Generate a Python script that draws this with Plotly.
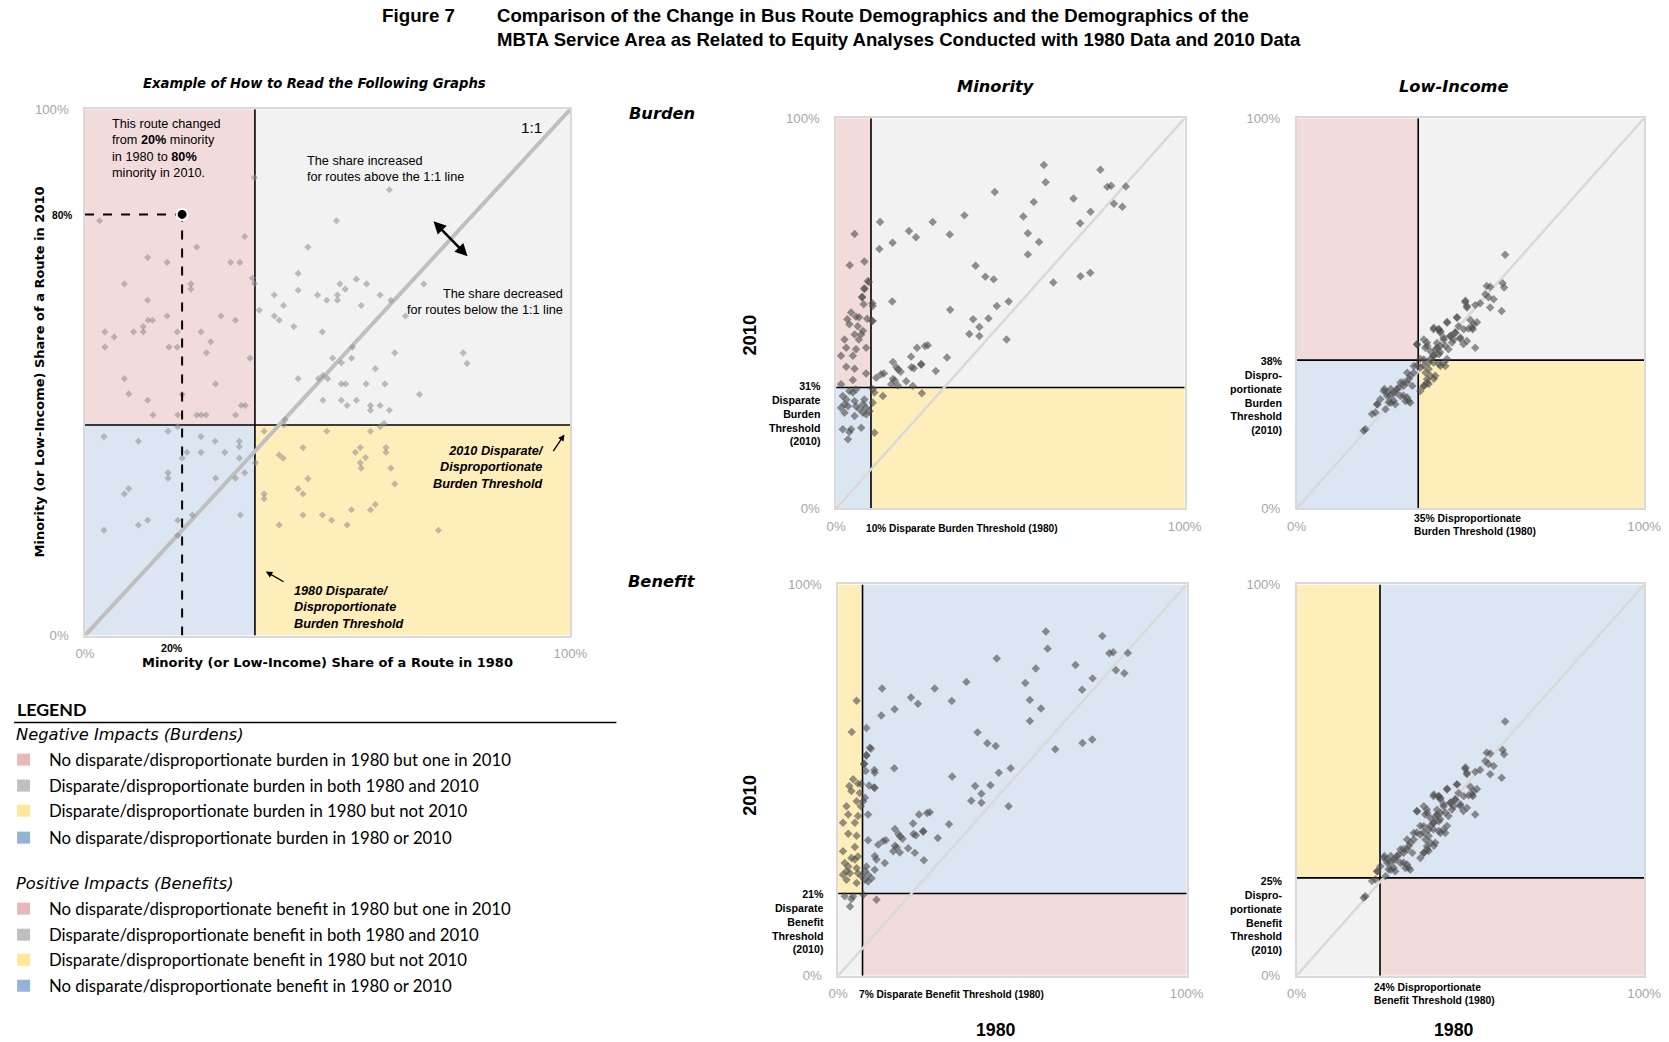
import plotly.graph_objects as go

# figure size; the page adds an 8px body margin and is shown at ~0.985 scale,
# so layout positions below are given in final on-screen pixels and converted
W, H = 1669, 1042
PAD, K = 8, 0.985


def px(x):
    return (x / K - PAD) / W


def py(y):
    return 1 - (y / K - PAD) / H


def fs(s):
    return s / K


# ---------------------------------------------------------------- data
# Example chart (illustrative routes), shares in percent
example_1980 = [34.9, 62.7, 3.0, 51.8, 32.9, 23.0, 45.9, 12.9, 16.9, 30.0, 31.9, 43.9, 34.5, 34.9,
                8.1, 21.8, 21.8, 43.9, 52.5, 53.6, 55.9, 58.0, 39.0, 40.9, 47.9, 49.8, 52.0, 52.0,
                56.9, 60.8, 63.0, 69.8, 12.9, 16.9, 28.0, 31.0, 13.0, 13.9, 12.0, 12.0, 10.0, 4.1,
                6.0, 19.0, 23.9, 35.9, 39.0, 40.0, 43.0, 48.9, 66.0, 77.9, 78.7, 63.8, 17.3, 19.0,
                25.9, 4.1, 25.0, 34.0, 55.1, 51.0, 52.8, 54.9, 59.8, 43.9, 48.1, 49.0, 50.0, 52.8,
                53.7, 57.9, 61.8, 68.9, 8.1, 26.9, 9.0, 12.9, 20.0, 32.2, 33.0, 49.0, 52.8, 54.0,
                55.9, 58.8, 60.8, 14.0, 19.1, 23.0, 23.9, 24.9, 31.0, 58.8, 62.7, 41.2, 61.6, 41.0,
                60.8, 3.9, 11.0, 17.1, 19.1, 23.9, 26.8, 31.8, 31.8, 20.0, 21.0, 23.9, 28.8, 31.8,
                35.1, 36.9, 40.0, 40.8, 44.9, 49.8, 56.7, 55.7, 57.8, 56.7, 56.9, 62.0, 62.0, 63.0,
                63.8, 58.8, 17.1, 17.1, 26.9, 31.0, 32.9, 45.9, 43.9, 44.9, 36.9, 36.9, 8.1, 9.0,
                54.9, 58.8, 59.8, 44.9, 48.9, 50.8, 54.0, 40.0, 72.8, 32.0, 22.1, 19.1, 12.9, 11.0,
                3.9, 19.1]
example_2010 = [87.0, 84.7, 78.8, 78.8, 75.8, 73.8, 73.8, 71.8, 70.9, 70.9, 70.9, 68.8, 67.9, 66.9,
                66.8, 66.8, 65.8, 65.6, 66.8, 65.8, 67.7, 66.8, 64.7, 62.7, 64.7, 63.7, 63.7, 64.7,
                62.7, 64.7, 63.7, 66.8, 63.7, 60.7, 60.7, 59.9, 59.9, 59.9, 58.7, 57.7, 57.7, 57.7,
                56.7, 57.7, 57.7, 61.8, 60.7, 59.9, 58.7, 57.7, 60.7, 53.7, 51.7, 53.7, 54.8, 54.8,
                55.8, 54.8, 53.7, 52.7, 54.8, 52.7, 51.8, 52.7, 50.7, 48.8, 48.8, 49.4, 48.8, 47.8,
                47.8, 47.8, 47.8, 45.8, 48.8, 47.8, 45.9, 44.7, 45.8, 43.7, 43.7, 44.7, 44.7, 43.7,
                44.7, 43.7, 43.7, 41.9, 41.9, 41.9, 41.9, 41.9, 41.9, 42.8, 42.8, 41.0, 40.3, 40.0,
                39.7, 37.8, 36.9, 38.8, 39.7, 37.8, 36.9, 36.9, 35.9, 33.7, 34.8, 34.8, 34.8, 33.7,
                32.8, 38.8, 34.3, 33.7, 35.7, 38.8, 35.7, 34.8, 33.8, 32.8, 31.8, 35.7, 34.8, 31.8,
                28.8, 38.8, 30.9, 29.9, 29.9, 29.9, 30.9, 29.8, 27.9, 26.9, 26.9, 26.0, 26.9, 27.9,
                23.9, 23.9, 24.9, 22.9, 22.9, 21.9, 21.0, 21.0, 20.0, 22.9, 22.9, 21.9, 21.9, 21.0,
                20.0, 19.0]
highlight_1980 = [20]
highlight_2010 = [80]
example_threshold_1980 = 35
example_threshold_2010 = 40

# Minority share of each bus route, 1980 vs 2010 (percent)
minority_1980 = [59.6, 60.1, 75.8, 77.8, 78.9, 83.1, 45.5, 68.1, 56.7, 79.7, 82.1, 73.0, 36.8, 53.7,
                 70.0, 12.6, 27.7, 20.9, 22.9, 32.6, 5.3, 55.0, 58.2, 12.4, 16.2, 55.0, 40.0, 3.9,
                 8.1, 42.8, 45.2, 70.1, 72.9, 62.3, 9.1, 8.1, 7.4, 10.4, 16.1, 49.5, 46.1, 32.7,
                 39.3, 43.7, 41.1, 38.2, 41.1, 48.9, 10.3, 26.3, 25.5, 23.2, 21.5, 31.8, 24.4, 28.6,
                 16.3, 17.8, 18.5, 17.3, 21.6, 22.3, 24.4, 11.5, 12.9, 13.7, 16.3, 16.8, 20.1, 22.0,
                 15.8, 17.7, 11.0, 13.4, 10.5, 24.6, 11.0, 10.5, 10.5, 9.4, 10.5,
                 8.1, 7.5, 7.9, 4.3, 3.2, 5.7, 6.6, 8.9, 3.8, 6.2, 7.7, 7.2, 5.3, 2.4, 6.5, 2.9, 5.7,
                 8.6, 1.4, 4.8, 2.9, 5.3, 8.6, 4.8, 1.4,
                 5.7, 4.8, 3.8, 1.9, 2.9, 5.3, 2.4, 1.4, 3.4, 5.7, 7.7, 8.1, 8.6, 6.7, 7.7, 5.3, 2.4,
                 8.6, 9.6, 1.9, 4.3, 7.2, 3.8, 3.4]
minority_2010 = [88.0, 83.6, 86.8, 82.4, 82.7, 82.5, 81.1, 79.4, 78.5, 78.1, 77.3, 76.0, 75.1, 74.8,
                 73.1, 73.4, 73.4, 71.1, 69.5, 70.2, 70.3, 70.5, 68.3, 66.5, 68.1, 65.1, 62.2, 62.3,
                 63.3, 59.4, 58.7, 59.5, 60.4, 57.9, 58.3, 56.4, 54.1, 52.6, 53.0, 53.0, 51.9, 50.9,
                 48.5, 48.7, 46.5, 44.7, 44.2, 43.3, 48.1, 41.8, 41.6, 41.2, 38.9, 38.7, 37.0, 35.2,
                 37.5, 35.6, 35.0, 36.2, 36.2, 35.9, 36.8, 33.5, 34.4, 34.6, 33.2, 32.8, 32.6, 31.4,
                 31.8, 31.5, 29.7, 28.8, 27.1, 29.5, 19.4, 30.6, 51.9, 58.0, 48.0,
                 56.2, 54.2, 52.3, 50.2, 48.5, 49.1, 49.0, 48.6, 47.2, 46.7, 45.5, 44.6, 44.6, 43.3,
                 43.3, 41.2, 40.8, 41.2, 39.1, 39.1, 36.3, 35.8, 34.6, 32.9, 31.8,
                 30.5, 29.7, 30.1, 28.8, 27.9, 27.5, 26.7, 25.8, 26.2, 26.2, 26.7, 27.9, 25.8, 25.4,
                 24.5, 23.7, 24.5, 24.1, 24.9, 20.3, 20.3, 20.7, 19.6, 17.7]

# Low-income share of each bus route, 1980 vs 2010 (percent)
lowinc_1980 = [60.0, 59.3, 59.7, 54.7, 55.7, 54.3, 55.2, 56.7, 59.0, 55.7, 48.5, 49.0, 51.4, 52.8,
               46.1, 50.0, 50.9, 51.9, 50.7, 49.5, 51.4, 43.3, 40.9, 41.3, 42.3, 44.2, 45.6, 47.1,
               48.0, 44.7, 42.8, 43.7, 39.4, 40.4, 41.3, 39.4, 38.5, 37.5, 37.0, 34.6, 35.6, 36.6,
               38.0, 39.4, 40.9, 42.3, 43.3, 39.9, 37.5, 36.6, 34.6, 33.7, 32.7, 31.8, 30.8, 29.9,
               28.9, 27.9, 25.3, 26.0, 27.0, 27.9, 26.5, 25.6, 28.4, 23.2, 21.7, 22.7, 19.8, 19.3,
               32.2, 31.8, 30.8,
               48.6, 49.0, 46.2, 43.3, 50.5, 48.1, 46.6, 39.5, 40.9, 41.4, 44.3, 45.7, 45.2, 47.1,
               42.3, 41.4, 40.4, 36.6, 37.6, 38.5, 40.0, 34.7, 49.0, 36.6, 38.0, 39.5, 40.9, 42.8,
               41.4, 35.6, 37.1, 38.5, 39.5, 33.7, 31.8, 32.3, 33.3, 30.8, 29.4, 28.5, 27.1, 26.1,
               25.1, 29.9, 31.3, 32.7, 35.6, 37.6, 24.1, 23.2, 27.1, 36.6, 38.0]
lowinc_2010 = [65.0, 57.7, 56.6, 57.0, 56.8, 54.9, 54.1, 53.6, 50.6, 51.5, 52.9, 51.5, 52.1, 52.6,
               48.9, 48.3, 47.2, 47.7, 45.9, 46.1, 41.2, 47.8, 45.9, 45.1, 43.8, 44.2, 45.1, 43.4,
               42.1, 42.5, 41.7, 40.8, 45.9, 41.2, 40.0, 39.1, 38.3, 42.5, 41.2, 42.1, 38.3, 36.6,
               35.7, 37.4, 37.0, 37.4, 38.3, 34.0, 33.1, 31.4, 36.6, 34.8, 34.0, 32.3, 31.4, 32.3,
               30.6, 29.7, 30.6, 29.7, 28.9, 27.6, 27.2, 25.4, 26.7, 26.7, 24.2, 24.6, 20.3, 19.9,
               27.6, 28.4, 28.9,
               53.2, 51.9, 48.9, 47.6, 46.3, 45.9, 46.7, 46.3, 45.9, 45.4, 44.2, 45.0, 43.3, 43.8,
               43.3, 41.6, 42.4, 43.3, 41.6, 40.3, 40.7, 42.0, 42.9, 38.2, 37.3, 39.1, 39.5, 36.5,
               36.5, 36.1, 34.8, 34.0, 33.2, 36.5, 34.8, 33.2, 31.4, 32.3, 31.0, 29.7, 30.6, 28.8,
               30.1, 28.8, 27.5, 27.1, 30.1, 32.3, 28.0, 26.7, 27.1, 31.4, 31.9]

# (1980 threshold, 2010 threshold) for each panel, percent
minority_burden_thr = (10, 31)
lowinc_burden_thr = (35, 38)
minority_benefit_thr = (7, 21)
lowinc_benefit_thr = (24, 25)

one_to_one = [0, 100]

# ---------------------------------------------------------------- styles
PINK, GREY, YELLOW, BLUE = "#F2DCDB", "#F2F2F2", "#FFEDBA", "#DCE6F2"
SW_PINK, SW_GREY, SW_YELLOW, SW_BLUE = "#E6B9B8", "#BFBFBF", "#FFE699", "#95B3D7"
NARROW = "Liberation Sans Narrow, Arial Narrow, Liberation Sans, Arial"
SANS = "Liberation Sans, Arial"
WIDE = "DejaVu Sans, Verdana, sans-serif"
LEG = "Lato, Open Sans, sans-serif"
TICK_GREY = "#A6A6A6"

fig = go.Figure()

# axis domains in screen pixels: (left, right, top, bottom)
panels = {
    "": (83, 569, 110, 636),
    "2": (835, 1184, 119, 509),
    "3": (1296, 1644, 119, 509),
    "4": (837, 1186, 585, 976),
    "5": (1296, 1644, 585, 976),
}

layout_axes = {}
for k, (l, r, t, b) in panels.items():
    common = dict(range=[0, 100], showgrid=False, zeroline=False, showline=True, mirror=True,
                  linecolor="#D9D9D9", linewidth=1.5, tickvals=[0, 100], ticktext=["0%", "100%"],
                  ticks="", tickfont=dict(family=SANS, size=fs(13), color=TICK_GREY), fixedrange=True)
    layout_axes["xaxis" + k] = dict(common, domain=[px(l), px(r)], anchor="y" + k, ticklabelstandoff=5)
    layout_axes["yaxis" + k] = dict(common, domain=[py(b), py(t)], anchor="x" + k, ticklabelstandoff=12)

shapes = []


def quadrants(k, thr, tl, tr, bl, br):
    xr, yr = "x" + k, "y" + k
    tx, ty = thr
    for (x0, x1, y0, y1, c) in [(0, tx, ty, 100, tl), (tx, 100, ty, 100, tr),
                                 (0, tx, 0, ty, bl), (tx, 100, 0, ty, br)]:
        shapes.append(dict(type="rect", xref=xr, yref=yr, x0=x0, x1=x1, y0=y0, y1=y1,
                           fillcolor=c, line=dict(width=0), layer="below"))
    shapes.append(dict(type="line", xref=xr, yref=yr, x0=tx, x1=tx, y0=0, y1=100,
                       line=dict(color="#000000", width=1.6), layer="below"))
    shapes.append(dict(type="line", xref=xr, yref=yr, x0=0, x1=100, y0=ty, y1=ty,
                       line=dict(color="#000000", width=1.6), layer="below"))


quadrants("", (example_threshold_1980, example_threshold_2010), PINK, GREY, BLUE, YELLOW)
quadrants("2", minority_burden_thr, PINK, GREY, BLUE, YELLOW)
quadrants("3", lowinc_burden_thr, PINK, GREY, BLUE, YELLOW)
quadrants("4", minority_benefit_thr, YELLOW, BLUE, GREY, PINK)
quadrants("5", lowinc_benefit_thr, YELLOW, BLUE, GREY, PINK)

# 1:1 reference lines
for k in panels:
    fig.add_trace(go.Scatter(x=one_to_one, y=one_to_one, mode="lines", xaxis="x" + k, yaxis="y" + k,
                             line=dict(color="#BFBFBF" if k == "" else "#D9D9D9", width=4 if k == "" else 2.5),
                             hoverinfo="skip", showlegend=False))

# example routes
fig.add_trace(go.Scatter(x=example_1980, y=example_2010, mode="markers", xaxis="x", yaxis="y",
                         marker=dict(symbol="diamond", size=5.5, color="rgba(140,140,140,0.55)"),
                         showlegend=False))
# dashed guides to the highlighted route
fig.add_trace(go.Scatter(x=[0, highlight_1980[0]], y=[highlight_2010[0], highlight_2010[0]], mode="lines",
                         xaxis="x", yaxis="y", line=dict(color="#000000", width=2, dash="dash"),
                         hoverinfo="skip", showlegend=False))
fig.add_trace(go.Scatter(x=[highlight_1980[0], highlight_1980[0]], y=[0, highlight_2010[0]], mode="lines",
                         xaxis="x", yaxis="y", line=dict(color="#000000", width=2, dash="dash"),
                         hoverinfo="skip", showlegend=False))
fig.add_trace(go.Scatter(x=highlight_1980, y=highlight_2010, mode="markers", xaxis="x", yaxis="y",
                         marker=dict(symbol="circle", size=11, color="#000000",
                                     line=dict(color="#FFFFFF", width=2)),
                         showlegend=False))

# route scatter in the four panels
for k, xs, ys in [("2", minority_1980, minority_2010), ("3", lowinc_1980, lowinc_2010),
                  ("4", minority_1980, minority_2010), ("5", lowinc_1980, lowinc_2010)]:
    fig.add_trace(go.Scatter(x=xs, y=ys, mode="markers", xaxis="x" + k, yaxis="y" + k,
                             marker=dict(symbol="diamond", size=6.5, color="rgba(75,75,75,0.6)"),
                             showlegend=False))

annotations = []


def ann(text, x, y, xanchor="left", yanchor="middle", size=12, color="#000000", family=SANS,
        align=None, **kw):
    d = dict(text=text, x=px(x), y=py(y), xref="paper", yref="paper", xanchor=xanchor,
             yanchor=yanchor, showarrow=False, font=dict(size=fs(size), color=color, family=family))
    if align:
        d["align"] = align
    d.update(kw)
    annotations.append(d)


def arrow(x, y, ax, ay, width, both=False):
    d = dict(x=px(x), y=py(y), xref="paper", yref="paper", ax=ax / K, ay=ay / K,
             text="", showarrow=True, arrowhead=2, arrowsize=1, arrowwidth=width, arrowcolor="#000000")
    if both:
        d["arrowside"] = "end+start"
    annotations.append(d)


# title
ann("<b>Figure 7</b>", 378, 16, size=18.5, family=NARROW)
ann("<b>Comparison of the Change in Bus Route Demographics and the Demographics of the</b>", 493, 16,
    size=18.3, family=NARROW)
ann("<b>MBTA Service Area as Related to Equity Analyses Conducted with 1980 Data and 2010 Data</b>", 493, 40,
    size=18.3, family=NARROW)

# headers
ann("<b><i>Example of How to Read the Following Graphs</i></b>", 313, 84, xanchor="center", size=13,
    family=WIDE)
ann("<b><i>Minority</i></b>", 995, 87, xanchor="center", size=16, family=WIDE)
ann("<b><i>Low-Income</i></b>", 1454, 87, xanchor="center", size=16, family=WIDE)
ann("<b><i>Burden</i></b>", 661, 114, xanchor="center", size=16, family=WIDE)
ann("<b><i>Benefit</i></b>", 661, 582, xanchor="center", size=16, family=WIDE)
ann("<b>2010</b>", 748, 336, xanchor="center", size=18, textangle=-90)
ann("<b>2010</b>", 748, 796, xanchor="center", size=18, textangle=-90)
ann("<b>1980</b>", 995, 1030, xanchor="center", size=17.5)
ann("<b>1980</b>", 1454, 1030, xanchor="center", size=17.5)

# example axis titles and labels
ann("<b>Minority (or Low-Income) Share of a Route in 2010</b>", 37, 373, xanchor="center", size=12.8,
    family=WIDE, textangle=-90)
ann("<b>Minority (or Low-Income) Share of a Route in 1980</b>", 326, 663, xanchor="center", size=12.8,
    family=WIDE)
ann("<b>80%</b>", 72, 216, xanchor="right", size=10, family=NARROW)
ann("<b>20%</b>", 170, 648, xanchor="center", size=10.5, family=NARROW)
ann("This route changed<br>from <b>20%</b> minority<br>in 1980 to <b>80%</b><br>minority in 2010.",
    108, 116, yanchor="top", size=12.5, family=NARROW, align="left")
ann("1:1", 530, 128, xanchor="center", size=15)
ann("The share increased<br>for routes above the 1:1 line", 303, 153, yanchor="top", size=12.5,
    family=NARROW, align="left")
ann("The share decreased<br>for routes below the 1:1 line", 564, 286, xanchor="right", yanchor="top",
    size=12.5, family=NARROW, align="right")
ann("<b><i>2010 Disparate/<br>Disproportionate<br>Burden Threshold</i></b>", 545, 443, xanchor="right",
    yanchor="top", size=12.5, family=NARROW, align="right")
ann("<b><i>1980 Disparate/<br>Disproportionate<br>Burden Threshold</i></b>", 290, 583, yanchor="top",
    size=12.5, family=NARROW, align="left")

# arrows in the example
arrow(466, 257, -35, -36, 2.5, both=True)
arrow(563, 435, -12, 18, 1.3)
arrow(264, 572, 19, 11, 1.3)

# panel threshold labels (2010, y side)
ann("<b>31%<br>Disparate<br>Burden<br>Threshold<br>(2010)</b>", 822, 379, xanchor="right", yanchor="top",
    size=10.5, family=NARROW, align="right")
ann("<b>38%<br>Dispro-<br>portionate<br>Burden<br>Threshold<br>(2010)</b>", 1284, 354, xanchor="right",
    yanchor="top", size=10.5, family=NARROW, align="right")
ann("<b>21%<br>Disparate<br>Benefit<br>Threshold<br>(2010)</b>", 825, 886, xanchor="right", yanchor="top",
    size=10.5, family=NARROW, align="right")
ann("<b>25%<br>Dispro-<br>portionate<br>Benefit<br>Threshold<br>(2010)</b>", 1284, 873, xanchor="right",
    yanchor="top", size=10.5, family=NARROW, align="right")

# panel threshold labels (1980, x side)
ann("<b>10% Disparate Burden Threshold (1980)</b>", 863, 529, size=10, family=NARROW)
ann("<b>35% Disproportionate<br>Burden Threshold (1980)</b>", 1412, 512, yanchor="top", size=10.2,
    family=NARROW, align="left")
ann("<b>7% Disparate Benefit Threshold (1980)</b>", 856, 995, size=10, family=NARROW)
ann("<b>24% Disproportionate<br>Benefit Threshold (1980)</b>", 1372, 980, yanchor="top", size=10.2,
    family=NARROW, align="left")

# legend block
ann("<b>LEGEND</b>", 13, 709, size=17.5, family=LEG)
shapes.append(dict(type="line", xref="paper", yref="paper", x0=px(12), x1=px(615), y0=py(723), y1=py(723),
                   line=dict(color="#000000", width=1.5)))
ann("<i>Negative Impacts (Burdens)</i>", 12, 735, size=16, family=WIDE)
ann("<i>Positive Impacts (Benefits)</i>", 12, 884, size=16, family=WIDE)
burden_items = ["No disparate/disproportionate burden in 1980 but one in 2010",
                "Disparate/disproportionate burden in both 1980 and 2010",
                "Disparate/disproportionate burden in 1980 but not 2010",
                "No disparate/disproportionate burden in 1980 or 2010"]
benefit_items = ["No disparate/disproportionate benefit in 1980 but one in 2010",
                 "Disparate/disproportionate benefit in both 1980 and 2010",
                 "Disparate/disproportionate benefit in 1980 but not 2010",
                 "No disparate/disproportionate benefit in 1980 or 2010"]
swatches = [SW_PINK, SW_GREY, SW_YELLOW, SW_BLUE]
for items, ys in [(burden_items, [760, 786, 811, 838]), (benefit_items, [909, 935, 960, 986])]:
    for txt, yy, col in zip(items, ys, swatches):
        shapes.append(dict(type="rect", xref="paper", yref="paper", x0=px(15), x1=px(28),
                           y0=py(yy + 6), y1=py(yy - 6), fillcolor=col, line=dict(width=0)))
        ann(txt, 45, yy, size=16.5, family=LEG)

fig.update_layout(width=W, height=H, margin=dict(l=0, r=0, t=0, b=0), paper_bgcolor="#FFFFFF",
                  plot_bgcolor="rgba(0,0,0,0)", showlegend=False, shapes=shapes, annotations=annotations,
                  **layout_axes)

fig.write_html("out.html")
